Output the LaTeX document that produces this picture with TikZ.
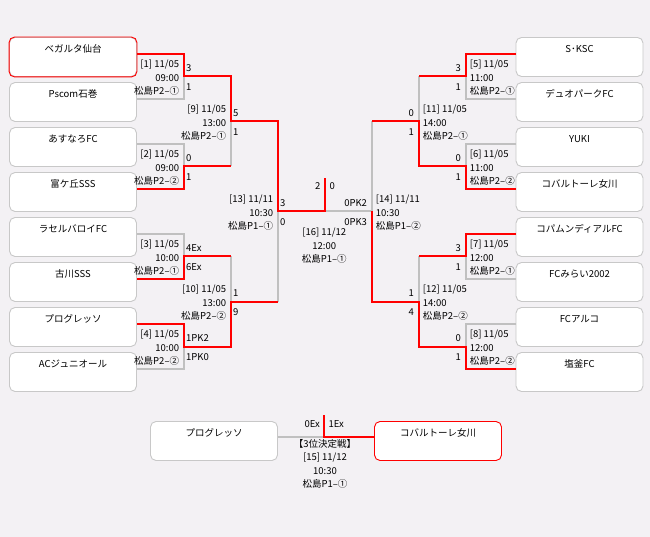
\documentclass[tikz,border=0pt]{standalone}
\usepackage{fontspec}
\setmainfont{Noto Sans CJK JP}
\newfontfamily\tnfont[RawFeature=+pwid]{Noto Sans CJK JP}
\definecolor{bgc}{HTML}{F3F1F4}
\definecolor{boxgray}{HTML}{C8C8C8}
\definecolor{linegray}{HTML}{C0C0C0}
\definecolor{winred}{HTML}{FF0000}
\tikzset{
  tbox/.style={draw=boxgray, line width=0.9pt, fill=white, rounded corners=5.5pt,
    minimum width=127pt, minimum height=39pt, inner sep=0pt},
  tname/.style={inner sep=0pt, font=\tnfont\fontsize{9.5}{11}\selectfont},
  lab/.style={inner sep=0pt, font=\fontsize{9.5}{11}\selectfont},
  gl/.style={draw=linegray, line width=2pt},
  rl/.style={draw=winred, line width=2pt},
}
\newcommand\Lmatch[8]{%
  \node[lab,anchor=east] (#1a) at ({#2-4.7},{#3-12.2}) {#4};
  \node[lab,anchor=east] (#1b) at ({#2-4.7},{#3+1.2}) {#5};
  \node[lab,anchor=east] (#1c) at ({#2-4.7},{#3+14.5}) {#6};
  \node[lab,anchor=west] (#1s) at ({#2+2},{#3-8}) {#7};
  \node[lab,anchor=west] (#1t) at ({#2+2},{#3+10.3}) {#8};}
\newcommand\Rmatch[8]{%
  \node[lab,anchor=west] (#1a) at ({#2+3.7},{#3-12.2}) {#4};
  \node[lab,anchor=west] (#1b) at ({#2+3.7},{#3+1.2}) {#5};
  \node[lab,anchor=west] (#1c) at ({#2+3.7},{#3+14.5}) {#6};
  \node[lab,anchor=east] (#1s) at ({#2-4.8},{#3-8}) {#7};
  \node[lab,anchor=east] (#1t) at ({#2-4.8},{#3+10.3}) {#8};}
\begin{document}
\begin{tikzpicture}[x=1pt,y=-1pt]
\fill[bgc] (0,0) rectangle (650,537);
\useasboundingbox (0,0) rectangle (650,537);

% team boxes
\foreach \t [count=\k] in {ベガルタ仙台,Pscom石巻,あすなろFC,富ケ丘SSS,ラセルバロイFC,古川SSS,プログレッソ,ACジュニオール}{
  \node[tbox] (L\k) at (73,{12+45*\k}) {};
  \node[tname] (L\k t) at (73,{4+45*\k}) {\t};
}
\foreach \t [count=\k] in {S･KSC,デュオパークFC,YUKI,コバルトーレ女川,コパムンディアルFC,FCみらい2002,FCアルコ,塩釜FC}{
  \node[tbox] (R\k) at (579.5,{12+45*\k}) {};
  \node[tname] (R\k t) at (579.5,{4+45*\k}) {\t};
}
\draw[winred, line width=0.9pt, rounded corners=5.5pt] (L1.north west) rectangle (L1.south east);

% third place boxes
\node[tbox] (TL) at (214,441) {};
\node[tname] (TLt) at (214,433.3) {プログレッソ};
\node[tbox, draw=winred] (TR) at (438,441) {};
\node[tname] (TRt) at (438,433.3) {コバルトーレ女川};

% coordinates
\coordinate (fin) at (325,211.5);
\coordinate (finTop) at (325,178);
\coordinate (tp) at (324.3,436.7);
\coordinate (tpTop) at (324.3,415);

% gray (losing) lines, left
\draw[gl] (137,99) -- (184,99) -- (184,76.5);
\draw[gl] (137,144) -- (184,144) -- (184,166.5);
\draw[gl] (137,234) -- (184,234) -- (184,256.5);
\draw[gl] (137,369) -- (184,369) -- (184,346.5);
\draw[gl] (231,166.5) -- (231,121.5);
\draw[gl] (231,256.5) -- (231,301.5);
\draw[gl] (278,301.5) -- (278,211.5);
% gray, right
\draw[gl] (516,99) -- (466,99) -- (466,76.5);
\draw[gl] (516,144) -- (466,144) -- (466,166.5);
\draw[gl] (516,279) -- (466,279) -- (466,256.5);
\draw[gl] (516,324) -- (466,324) -- (466,346.5);
\draw[gl] (419,76.5) -- (419,121.5);
\draw[gl] (419,256.5) -- (419,301.5);
\draw[gl] (372,121.5) -- (372,211.5) -- (fin);
% gray third place
\draw[gl] (TL.east |- tp) -- (tp);

% red (winning) lines, left
\draw[rl] (137,54) -- (184,54) -- (184,76.5) -- (231,76.5) -- (231,121.5) -- (278,121.5) -- (278,211.5) -- (fin) -- (finTop);
\draw[rl] (137,189) -- (184,189) -- (184,166.5) -- (231,166.5);
\draw[rl] (137,279) -- (184,279) -- (184,256.5) -- (231,256.5);
\draw[rl] (137,324) -- (184,324) -- (184,346.5) -- (231,346.5) -- (231,301.5) -- (278,301.5);
% red, right
\draw[rl] (516,54) -- (466,54) -- (466,76.5) -- (419,76.5);
\draw[rl] (516,189) -- (466,189) -- (466,166.5) -- (419,166.5) -- (419,121.5) -- (372,121.5);
\draw[rl] (516,234) -- (466,234) -- (466,256.5) -- (419,256.5);
\draw[rl] (516,369) -- (466,369) -- (466,346.5) -- (419,346.5) -- (419,301.5) -- (372,301.5) -- (372,211.5);
% red third place
\draw[rl] (TR.west |- tp) -- (tp) -- (tpTop);

% match labels, left
\Lmatch{m1}{184}{76.5}{[1] 11/05}{09:00}{松島P2–①}{3}{1}
\Lmatch{m2}{184}{166.5}{[2] 11/05}{09:00}{松島P2–②}{0}{1}
\Lmatch{m3}{184}{256.5}{[3] 11/05}{10:00}{松島P2–①}{4Ex}{6Ex}
\Lmatch{m4}{184}{346.5}{[4] 11/05}{10:00}{松島P2–②}{1PK2}{1PK0}
\Lmatch{m9}{231}{121.5}{[9] 11/05}{13:00}{松島P2–①}{5}{1}
\Lmatch{m10}{231}{301.5}{[10] 11/05}{13:00}{松島P2–②}{1}{9}
\Lmatch{m13}{278}{211.5}{[13] 11/11}{10:30}{松島P1–①}{3}{0}
% match labels, right
\Rmatch{m5}{466}{76.5}{[5] 11/05}{11:00}{松島P2–①}{3}{1}
\Rmatch{m6}{466}{166.5}{[6] 11/05}{11:00}{松島P2–②}{0}{1}
\Rmatch{m7}{466}{256.5}{[7] 11/05}{12:00}{松島P2–①}{3}{1}
\Rmatch{m8}{466}{346.5}{[8] 11/05}{12:00}{松島P2–②}{0}{1}
\Rmatch{m11}{419}{121.5}{[11] 11/05}{14:00}{松島P2–①}{0}{1}
\Rmatch{m12}{419}{301.5}{[12] 11/05}{14:00}{松島P2–②}{1}{4}
\Rmatch{m14}{372}{211.5}{[14] 11/11}{10:30}{松島P1–②}{0PK2}{0PK3}

% final
\node[lab,anchor=east] (fs1) at (320.5,185.7) {2};
\node[lab,anchor=west] (fs2) at (329.5,185.7) {0};
\node[lab] (fa) at (324.3,232.7) {[16] 11/12};
\node[lab] (fb) at (324.3,246) {12:00};
\node[lab] (fc) at (324.3,259.3) {松島P1–①};

% third place labels
\node[lab,anchor=east] (ts1) at (320,424) {0Ex};
\node[lab,anchor=west] (ts2) at (328.3,424) {1Ex};
\node[lab] (ta) at (325,444.3) {【3位決定戦】};
\node[lab] (tb) at (325,457.7) {[15] 11/12};
\node[lab] (tc) at (325,471) {10:30};
\node[lab] (td) at (325,484.3) {松島P1–①};
\end{tikzpicture}
\end{document}
